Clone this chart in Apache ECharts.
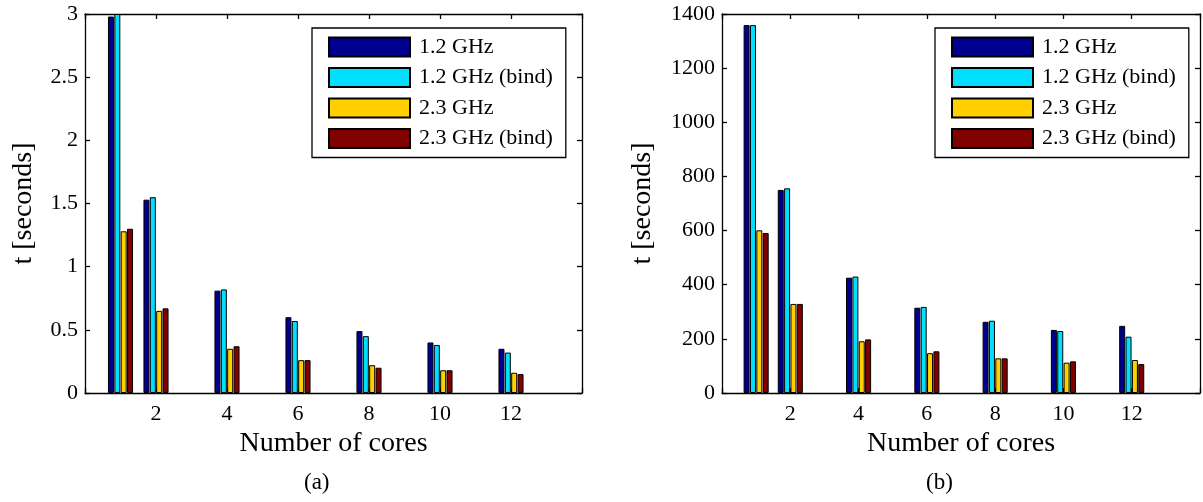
<!DOCTYPE html>
<html>
<head>
<meta charset="utf-8">
<script src="https://cdn.jsdelivr.net/npm/echarts@6/dist/echarts.min.js"></script>
<style>html,body{margin:0;padding:0;background:#fff}#c{width:1203px;height:502px}</style>
</head>
<body>
<div id="c"></div>
<script>
const cores = [1, 2, 4, 6, 8, 10, 12];
const seriesNames = ['1.2 GHz', '1.2 GHz (bind)', '2.3 GHz', '2.3 GHz (bind)'];
const colors = ['#00008F', '#00DFFF', '#FFCF00', '#800000'];
const xTicks = [2, 4, 6, 8, 10, 12];
// panel (a)
const a_12  = [2.98, 1.53, 0.81, 0.60, 0.49, 0.40, 0.35];
const a_12b = [3.00, 1.55, 0.82, 0.57, 0.45, 0.38, 0.32];
const a_23  = [1.28, 0.65, 0.35, 0.26, 0.22, 0.18, 0.16];
const a_23b = [1.30, 0.67, 0.37, 0.26, 0.20, 0.18, 0.15];
// panel (b)
const b_12  = [1359, 750, 426, 315, 263, 233, 248];
const b_12b = [1359, 756, 430, 318, 267, 229, 208];
const b_23  = [601, 329, 191, 147, 128, 112, 122];
const b_23b = [591, 329, 198, 154, 128, 117, 107];
const yA = {min: 0, max: 3, interval: 0.5};
const yB = {min: 0, max: 1400, interval: 200};

const FONT = "'Liberation Serif', 'Times New Roman', serif";
const lineStyle = {color: '#000', width: 1.3};

function xAxes(gridIndex) {
  return [
    {
      type: 'value', gridIndex, position: 'bottom', min: 0, max: 14, interval: 2,
      axisLine: {show: true, onZero: false, lineStyle}, axisTick: {show: true, inside: true, length: 5, lineStyle},
      splitLine: {show: false},
      axisLabel: {color: '#000', fontFamily: FONT, fontSize: 22, margin: 10,
        formatter: v => (xTicks.indexOf(v) >= 0 ? String(v) : '')},
      name: 'Number of cores', nameLocation: 'middle', nameGap: 36,
      nameTextStyle: {color: '#000', fontFamily: FONT, fontSize: 28}
    },
    {
      type: 'value', gridIndex, position: 'top', min: 0, max: 14, interval: 2,
      axisLine: {show: true, onZero: false, lineStyle}, axisTick: {show: true, inside: true, length: 5, lineStyle},
      splitLine: {show: false}, axisLabel: {show: false}
    }
  ];
}
function yAxes(gridIndex, r, nameGap) {
  return [
    {
      type: 'value', gridIndex, position: 'left', min: r.min, max: r.max, interval: r.interval,
      axisLine: {show: true, onZero: false, lineStyle}, axisTick: {show: true, inside: true, length: 5, lineStyle},
      splitLine: {show: false},
      axisLabel: {color: '#000', fontFamily: FONT, fontSize: 22, margin: 7, formatter: v => String(v)},
      name: 't [seconds]', nameLocation: 'middle', nameGap,
      nameTextStyle: {color: '#000', fontFamily: FONT, fontSize: 28}
    },
    {
      type: 'value', gridIndex, position: 'right', min: r.min, max: r.max, interval: r.interval,
      axisLine: {show: true, onZero: false, lineStyle}, axisTick: {show: true, inside: true, length: 5, lineStyle},
      splitLine: {show: false}, axisLabel: {show: false}
    }
  ];
}
function barSeries(arrs, xi, yi) {
  return arrs.map((arr, i) => ({
    type: 'bar', name: seriesNames[i], xAxisIndex: xi, yAxisIndex: yi,
    data: cores.map((c, k) => [c, arr[k]]),
    barWidth: 6, barGap: '6%',
    itemStyle: {color: colors[i], borderColor: '#000', borderWidth: 1},
    emphasis: {disabled: true}
  }));
}
function legend(left) {
  return {
    left, top: 28, orient: 'vertical', itemWidth: 81, itemHeight: 19, itemGap: 8.5,
    padding: [8, 13, 8, 16], borderColor: '#000', borderWidth: 1.3, backgroundColor: '#fff',
    icon: 'rect', selectedMode: false, data: seriesNames,
    textStyle: {color: '#000', fontFamily: FONT, fontSize: 22, lineHeight: 19, padding: [0, 0, 0, 4]}
  };
}

const chart = echarts.init(document.getElementById('c'), null, {renderer: 'canvas'});
chart.setOption({
  animation: false,
  backgroundColor: '#fff',
  grid: [
    {left: 85, top: 14, width: 497, height: 379},
    {left: 722, top: 14, width: 483, height: 379}
  ],
  xAxis: [...xAxes(0), ...xAxes(1)],
  yAxis: [...yAxes(0, yA, 47), ...yAxes(1, yB, 65)],
  legend: [legend(312), legend(935)],
  series: [...barSeries([a_12, a_12b, a_23, a_23b], 0, 0), ...barSeries([b_12, b_12b, b_23, b_23b], 2, 2)],
  graphic: [
    {type: 'text', left: 318 - 14, top: 471, style: {text: '(a)', font: "23px " + FONT, fill: '#000'}},
    {type: 'text', left: 940 - 14, top: 471, style: {text: '(b)', font: "23px " + FONT, fill: '#000'}}
  ]
});
</script>
</body>
</html>
